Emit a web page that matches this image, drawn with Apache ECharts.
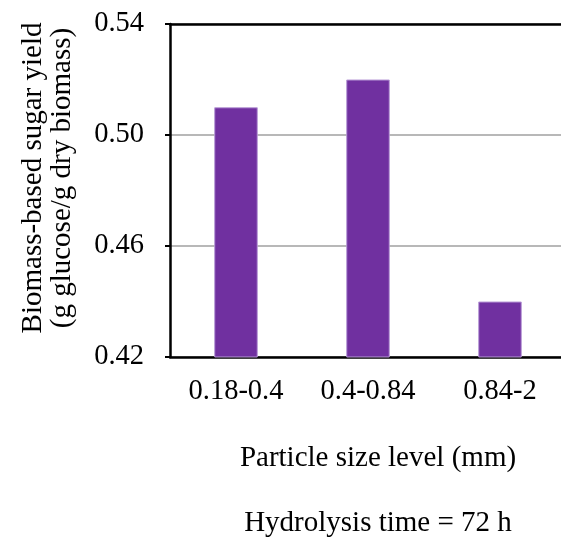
<!DOCTYPE html>
<html><head><meta charset="utf-8">
<script src="https://cdn.jsdelivr.net/npm/echarts@6/dist/echarts.min.js"></script>
<style>html,body{margin:0;padding:0;background:#fff}#c{width:561px;height:544px}</style>
</head><body><div id="c"></div>
<script>
const categories = ['0.18-0.4', '0.4-0.84', '0.84-2'];
const yieldValues = [0.51, 0.52, 0.44];
const yTicks = [0.42, 0.46, 0.50, 0.54];
const yTitle = ['Biomass-based sugar yield', '(g glucose/g dry biomass)'];
const xTitle = 'Particle size level (mm)';
const note = 'Hydrolysis time = 72 h';

const font = '"Liberation Serif", "Times New Roman", serif';
const chart = echarts.init(document.getElementById('c'));
chart.setOption({
  animation: false,
  textStyle: { fontFamily: font },
  grid: { left: 170, top: 24, width: 396, height: 333, show: false,
          outerBoundsMode: 'none', containLabel: false },
  xAxis: [{
    type: 'category', data: categories,
    axisLine: { lineStyle: { color: '#000', width: 2.5 } },
    axisTick: { inside: true, length: 8, lineStyle: { color: '#000', width: 2 } },
    axisLabel: { color: '#000', fontFamily: font, fontSize: 28.5, margin: 20 }
  }, {
    type: 'category', data: categories, position: 'top', z: 5,
    axisLine: { show: true, lineStyle: { color: '#000', width: 2.5 } },
    axisTick: { show: false }, axisLabel: { show: false }, splitLine: { show: false }
  }],
  yAxis: {
    type: 'value', min: yTicks[0], max: yTicks[yTicks.length - 1], interval: 0.04,
    axisLine: { show: true, lineStyle: { color: '#000', width: 2.5 } },
    axisTick: { show: true, length: 5, lineStyle: { color: '#000', width: 2 } },
    splitLine: { lineStyle: { color: '#a0a0a0', width: 1.5 } },
    axisLabel: { color: '#000', fontFamily: font, fontSize: 28.5, margin: 26, formatter: v => v.toFixed(2) }
  },
  series: [{
    type: 'bar', data: yieldValues, barWidth: '33%',
    itemStyle: { color: '#7030A0', borderColor: '#B89AD6', borderWidth: 1 }
  }],
  graphic: [
    { type: 'text', x: 48, y: 178, rotation: Math.PI / 2,
      style: { text: yTitle.join('\n'), font: '29px ' + font, fill: '#000', align: 'center', verticalAlign: 'middle', lineHeight: 29 } },
    { type: 'text', x: 378, y: 458,
      style: { text: xTitle, font: '29px ' + font, fill: '#000', align: 'center', verticalAlign: 'middle' } },
    { type: 'text', x: 378, y: 523,
      style: { text: note, font: '29px ' + font, fill: '#000', align: 'center', verticalAlign: 'middle' } }
  ]
});
</script></body></html>
